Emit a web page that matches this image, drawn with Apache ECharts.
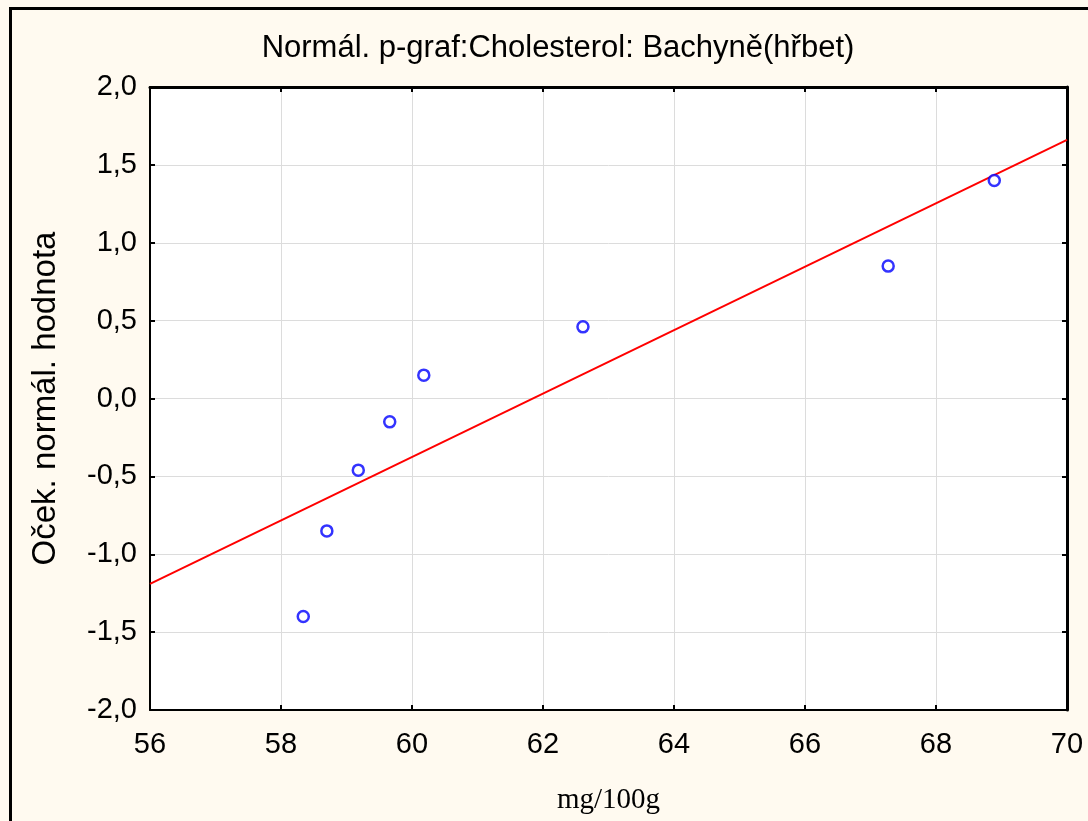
<!DOCTYPE html>
<html><head><meta charset="utf-8">
<script src="https://cdn.jsdelivr.net/npm/echarts@6/dist/echarts.min.js"></script>
<style>html,body{margin:0;padding:0;background:#fffaf0;}#c{width:1088px;height:821px;}</style>
</head><body><div id="c"></div>
<script>
const titleText = 'Normál. p-graf:Cholesterol: Bachyně(hřbet)';
const xName = 'mg/100g';
const yName = 'Oček. normál. hodnota';
const xValues = [58.34, 58.70, 59.18, 59.66, 60.18, 62.61, 67.27, 68.89];
const yValues = [-1.40, -0.85, -0.46, -0.15, 0.15, 0.46, 0.85, 1.40];
const lineX = [56, 70];
const lineY = [-1.19, 1.66];

const pts = xValues.map((x, i) => [x, yValues[i]]);
const linePts = lineX.map((x, i) => [x, lineY[i]]);
const fmtY = v => v.toFixed(1).replace('.', ',');

const chart = echarts.init(document.getElementById('c'));
chart.setOption({
  backgroundColor: '#fffaf0',
  animation: false,
  title: {
    text: titleText, left: 553, textAlign: 'center', top: 28,
    textStyle: { fontFamily: 'Liberation Sans', fontSize: 31, fontWeight: 'normal', color: '#000' }
  },
  graphic: [{
    type: 'rect', left: 8, top: 6, z: 100, silent: true,
    shape: { width: 1200, height: 1000 },
    style: { fill: 'none', stroke: '#000', lineWidth: 3 }
  }],
  grid: { left: 150, right: 21, top: 87, bottom: 111, show: true, backgroundColor: '#fff', borderColor: '#000', borderWidth: 0 },
  xAxis: [{
    type: 'value', min: 56, max: 70, interval: 2, position: 'bottom',
    name: xName, nameLocation: 'middle', nameGap: 76,
    nameTextStyle: { fontFamily: 'Liberation Serif', fontSize: 29, color: '#000' },
    axisLine: { show: true, onZero: false, lineStyle: { color: '#000', width: 2 } },
    axisTick: { show: true, inside: true, length: 5, lineStyle: { color: '#000', width: 2 } },
    axisLabel: { fontFamily: 'Liberation Sans', fontSize: 29, color: '#000', margin: 20 },
    splitLine: { show: true, lineStyle: { color: '#dcdcdc', width: 1 } }
  }, {
    type: 'value', min: 56, max: 70, interval: 2, position: 'top',
    axisLine: { show: true, onZero: false, lineStyle: { color: '#000', width: 3 } },
    axisTick: { show: true, inside: true, length: 5, lineStyle: { color: '#000', width: 2 } },
    axisLabel: { show: false }, splitLine: { show: false }
  }],
  yAxis: [{
    type: 'value', min: -2, max: 2, interval: 0.5, position: 'left',
    name: yName, nameLocation: 'middle', nameGap: 88, nameRotate: 90,
    nameTextStyle: { fontFamily: 'Liberation Sans', fontSize: 33, color: '#000' },
    axisLine: { show: true, onZero: false, lineStyle: { color: '#000', width: 2 } },
    axisTick: { show: true, inside: true, length: 5, lineStyle: { color: '#000', width: 2 } },
    axisLabel: { fontFamily: 'Liberation Sans', fontSize: 29, color: '#000', margin: 13, formatter: fmtY },
    splitLine: { show: true, lineStyle: { color: '#dcdcdc', width: 1 } }
  }, {
    type: 'value', min: -2, max: 2, interval: 0.5, position: 'right',
    axisLine: { show: true, onZero: false, lineStyle: { color: '#000', width: 3 } },
    axisTick: { show: true, inside: true, length: 5, lineStyle: { color: '#000', width: 2 } },
    axisLabel: { show: false }, splitLine: { show: false }
  }],
  series: [{
    type: 'line', data: linePts, symbol: 'none', xAxisIndex: 0, yAxisIndex: 0,
    lineStyle: { color: '#ff0000', width: 2 }, z: 3
  }, {
    type: 'scatter', data: pts, xAxisIndex: 0, yAxisIndex: 0,
    symbol: 'circle', symbolSize: 11,
    itemStyle: { color: '#fff', borderColor: '#0000ff', borderWidth: 2.5 }, z: 4
  }]
});
</script></body></html>
